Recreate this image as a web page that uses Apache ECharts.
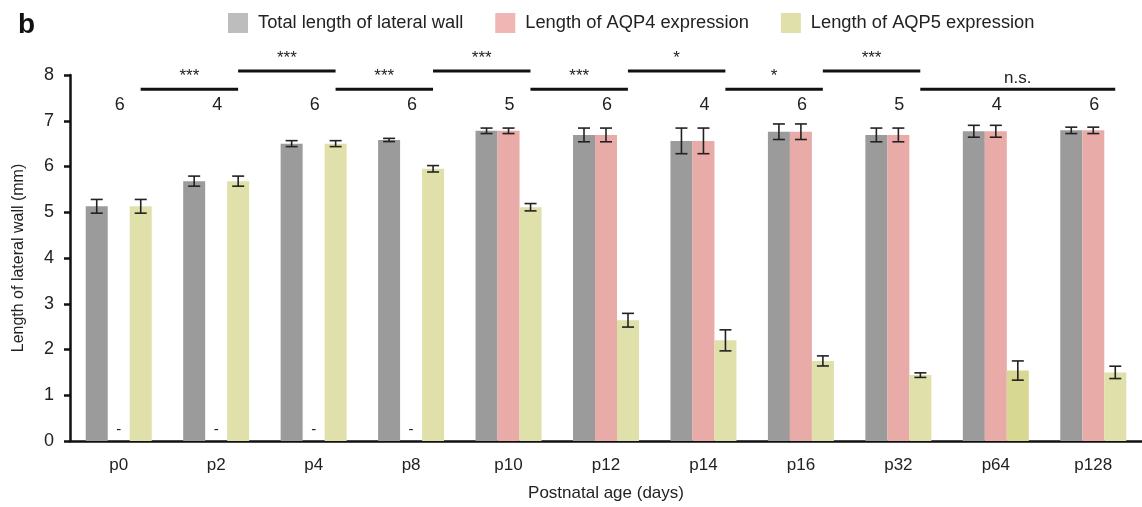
<!DOCTYPE html>
<html><head><meta charset="utf-8">
<script src="https://cdn.jsdelivr.net/npm/echarts@6/dist/echarts.min.js"></script>
<style>html,body{margin:0;padding:0;background:#fff}#c{width:1142px;height:507px}</style>
</head><body><div id="c"></div>
<script>
const categories = ['p0','p2','p4','p8','p10','p12','p14','p16','p32','p64','p128'];
const totalLength = [5.13,5.68,6.50,6.58,6.78,6.69,6.56,6.76,6.69,6.77,6.79];
const totalErr    = [0.15,0.11,0.065,0.035,0.06,0.15,0.28,0.17,0.15,0.13,0.07];
const aqp4Length  = [0,0,0,0,6.78,6.69,6.56,6.76,6.69,6.77,6.79];
const aqp4Err     = [null,null,null,null,0.06,0.15,0.28,0.17,0.15,0.13,0.07];
const aqp5Length  = [5.13,5.68,6.50,5.95,5.11,2.64,2.20,1.75,1.44,1.54,1.50];
const aqp5Err     = [0.15,0.11,0.065,0.07,0.08,0.15,0.23,0.11,0.05,0.21,0.135];
const sampleN     = [6,4,6,6,5,6,4,6,5,4,6];
const yTicks = [0,1,2,3,4,5,6,7,8];
// [fromIndex, toIndex, level, label]
const brackets = [
  [0,1,'low','***'],[1,2,'high','***'],[2,3,'low','***'],[3,4,'high','***'],
  [4,5,'low','***'],[5,6,'high','*'],[6,7,'low','*'],[7,8,'high','***'],[8,10,'low','n.s.']
];
const bracketLevel = {low: 7.69, high: 8.09};
const nLabelY = 7.37;

const FONT = "'Liberation Sans', Arial, Helvetica, sans-serif";
const BW = 22;
const colors = {total:'#9b9b9b', aqp4:'#e8aba8', aqp5:'#e0e0ab', aqp5dark:'#d7d892'};

const errData = [];
[[totalLength,totalErr,-1],[aqp4Length,aqp4Err,0],[aqp5Length,aqp5Err,1]].forEach(([v,e,o])=>{
  v.forEach((val,i)=>{ if(e[i]!=null) errData.push([i,val,e[i],o]); });
});

const chart = echarts.init(document.getElementById('c'));
chart.setOption({
  animation:false,
  textStyle:{fontFamily:FONT},
  title:{text:'b',left:13,top:6,textStyle:{fontSize:28,fontWeight:'bold',color:'#111',fontFamily:FONT}},
  legend:{
    left:228, top:13, padding:0, itemWidth:20, itemHeight:20, itemGap:32, icon:'rect',
    textStyle:{fontSize:18.3,color:'#222',fontFamily:FONT,padding:[0,0,0,5]},
    data:[
      {name:'Total length of lateral wall',itemStyle:{color:'#bdbdbd'}},
      {name:'Length of AQP4 expression',itemStyle:{color:'#efb6b4'}},
      {name:'Length of AQP5 expression',itemStyle:{color:'#dfe0aa'}}
    ]
  },
  grid:{left:70,right:-5,top:75,bottom:66,containLabel:false},
  xAxis:{
    type:'category',data:categories,
    name:'Postnatal age (days)',nameLocation:'middle',nameGap:44,
    nameTextStyle:{fontSize:17,color:'#222',fontFamily:FONT},
    axisLine:{lineStyle:{color:'#111',width:2.5}},
    axisTick:{length:7,lineStyle:{color:'#111',width:2.5}},
    axisLabel:{fontSize:17,color:'#222',margin:16,fontFamily:FONT}
  },
  yAxis:{
    type:'value',min:0,max:8,interval:1,
    name:'Length of lateral wall (mm)',nameLocation:'middle',nameGap:43,nameRotate:90,
    nameTextStyle:{fontSize:16,color:'#222',fontFamily:FONT},
    axisLine:{show:true,lineStyle:{color:'#111',width:2.5}},
    axisTick:{show:true,length:6,lineStyle:{color:'#111',width:2.5}},
    axisLabel:{fontSize:18,color:'#222',margin:16,fontFamily:FONT,
      formatter:v=>yTicks.includes(v)?String(v):''},
    splitLine:{show:false}
  },
  series:[
    {name:'Total length of lateral wall',type:'bar',barWidth:BW,barGap:'0%',
      itemStyle:{color:colors.total},data:totalLength},
    {name:'Length of AQP4 expression',type:'bar',barWidth:BW,barGap:'0%',
      itemStyle:{color:colors.aqp4},data:aqp4Length,
      label:{show:true,position:'top',distance:4,fontSize:15,color:'#222',
        formatter:p=>p.value===0?'-':''}},
    {name:'Length of AQP5 expression',type:'bar',barWidth:BW,barGap:'0%',
      data:aqp5Length.map((v,i)=>({value:v,itemStyle:{color:categories[i]==='p64'?colors.aqp5dark:colors.aqp5}}))},
    {type:'custom',silent:true,z:10,data:errData,encode:{x:0,y:1},
      renderItem:(params,api)=>{
        const i=api.value(0),v=api.value(1),e=api.value(2),o=api.value(3);
        const x=api.coord([i,v])[0]+o*BW;
        const yt=api.coord([i,v+e])[1], yb=api.coord([i,v-e])[1];
        const st={stroke:'#222',lineWidth:1.6};
        return {type:'group',children:[
          {type:'line',shape:{x1:x,y1:yt,x2:x,y2:yb},style:st},
          {type:'line',shape:{x1:x-6,y1:yt,x2:x+6,y2:yt},style:st},
          {type:'line',shape:{x1:x-6,y1:yb,x2:x+6,y2:yb},style:st}
        ]};
      }},
    {type:'custom',silent:true,z:10,clip:false,
      data:brackets.map(b=>[b[0],b[1],bracketLevel[b[2]]]),
      renderItem:(params,api)=>{
        const b=brackets[params.dataIndex];
        const y=bracketLevel[b[2]];
        const off=api.size([1,0])[0]*0.225;
        const p1=api.coord([b[0],y]), p2=api.coord([b[1],y]);
        const x1=p1[0]+off, x2=p2[0]+off;
        const isNs=b[3]==='n.s.';
        return {type:'group',children:[
          {type:'line',shape:{x1:x1,y1:p1[1],x2:x2,y2:p1[1]},style:{stroke:'#111',lineWidth:3}},
          {type:'text',x:(x1+x2)/2,y:p1[1]-(isNs?11:13),
            style:{text:b[3],fill:'#222',fontSize:17,fontFamily:FONT,align:'center',verticalAlign:'middle'}}
        ]};
      }},
    {type:'custom',silent:true,z:10,clip:false,
      data:sampleN.map((n,i)=>[i,nLabelY]),
      renderItem:(params,api)=>{
        const p=api.coord([api.value(0),api.value(1)]);
        return {type:'text',x:p[0]+1,y:p[1]+1,
          style:{text:String(sampleN[params.dataIndex]),fill:'#222',fontSize:18,fontFamily:FONT,align:'center',verticalAlign:'middle'}};
      }}
  ]
});
</script></body></html>
